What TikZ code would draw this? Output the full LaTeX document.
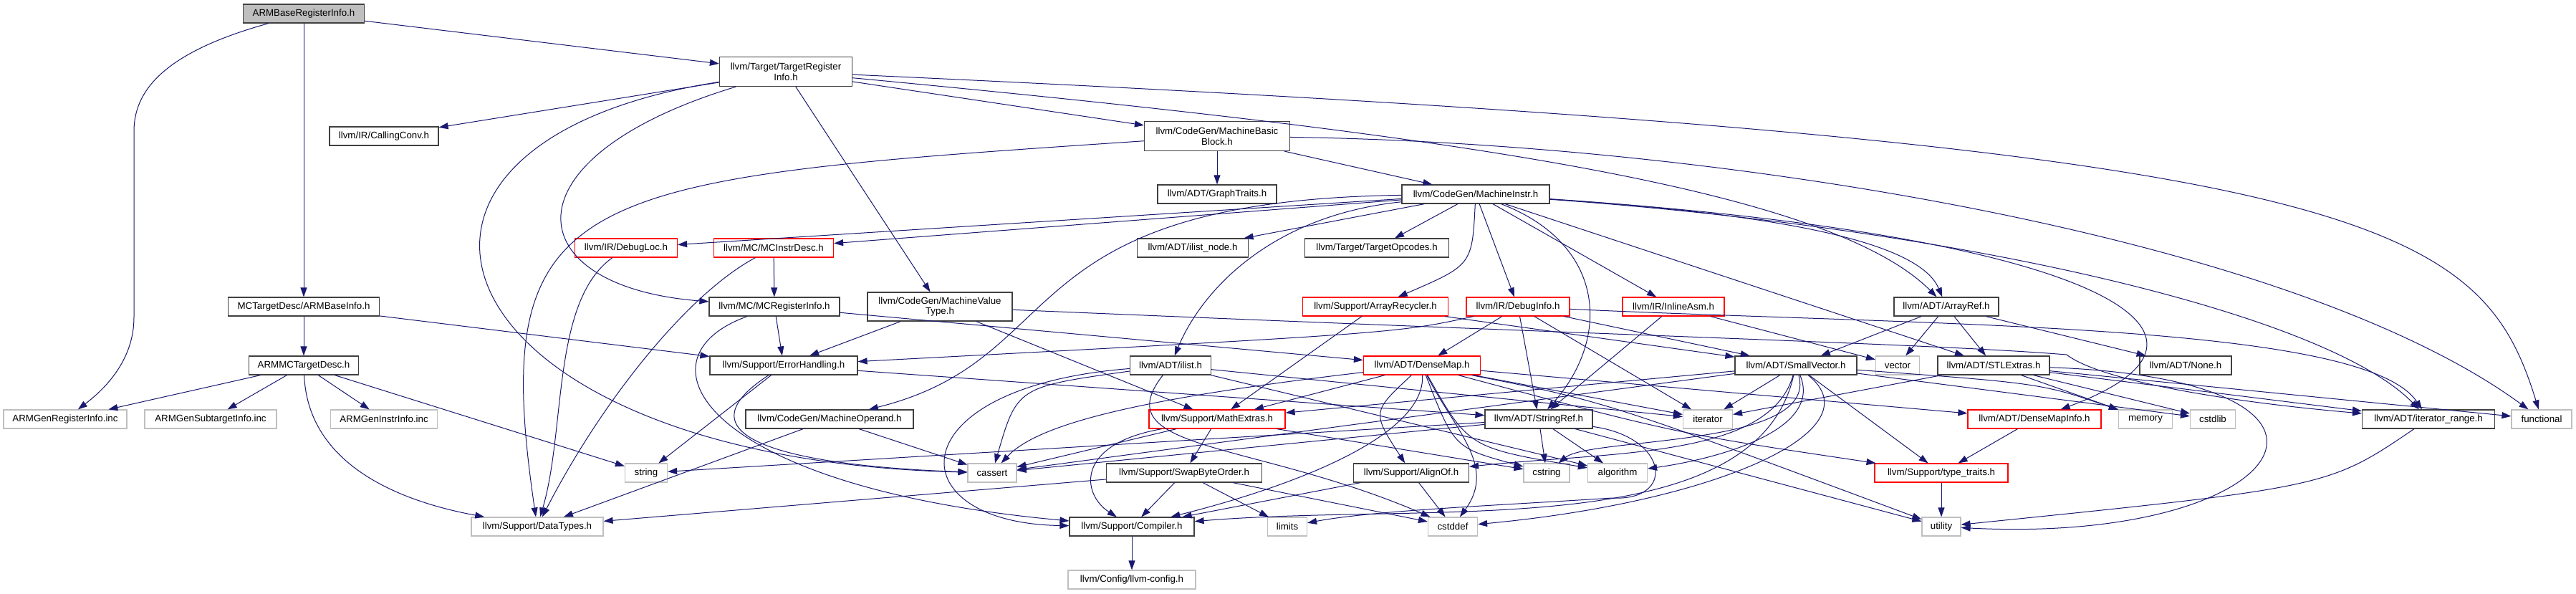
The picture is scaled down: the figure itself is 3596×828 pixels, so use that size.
\documentclass[tikz,border=0pt]{standalone}
\usepackage{fontspec}
\setmainfont{Liberation Sans}
\usetikzlibrary{arrows.meta}
\definecolor{edgeblue}{HTML}{191970}
\definecolor{boxred}{HTML}{FF0000}
\definecolor{boxgray}{HTML}{BFBFBF}
\begin{document}
\begin{tikzpicture}[x=1pt, y=1pt, >={Triangle[length=13pt,width=9pt]},
  every node/.style={font=\fontsize{13.3}{14.6}\selectfont, inner sep=0pt, minimum height=26pt, align=center, line width=1.2pt},
  hdr/.style={draw=black!75, fill=white},
  root/.style={draw=black!75, fill=boxgray},
  redhdr/.style={draw=boxred, fill=white},
  sys/.style={draw=boxgray, fill=white},
  inc/.style={->, draw=edgeblue, line width=1pt}]
\useasboundingbox[fill=white] (0,0) rectangle (3596,-828);
\node[root, minimum width=169pt] (arb) at (424,-19) {ARMBaseRegisterInfo.h};
\node[hdr, minimum width=185pt, minimum height=41pt] (tri) at (1097,-100) {llvm/Target/TargetRegister\\Info.h};
\node[hdr, minimum width=152pt] (callconv) at (536,-190) {llvm/IR/CallingConv.h};
\node[hdr, minimum width=203pt, minimum height=41pt] (mbb) at (1699,-190) {llvm/CodeGen/MachineBasic\\Block.h};
\node[hdr, minimum width=166pt] (graphtraits) at (1699,-271) {llvm/ADT/GraphTraits.h};
\node[hdr, minimum width=206pt] (minstr) at (2060,-271) {llvm/CodeGen/MachineInstr.h};
\node[redhdr, minimum width=143pt] (debugloc) at (874,-346) {llvm/IR/DebugLoc.h};
\node[redhdr, minimum width=167pt] (mcinstrdesc) at (1080,-346) {llvm/MC/MCInstrDesc.h};
\node[hdr, minimum width=155pt] (ilistnode) at (1665,-346) {llvm/ADT/ilist\_node.h};
\node[hdr, minimum width=201pt] (targetopc) at (1922,-346) {llvm/Target/TargetOpcodes.h};
\node[hdr, minimum width=211pt] (armbaseinfo) at (424,-428) {MCTargetDesc/ARMBaseInfo.h};
\node[hdr, minimum width=182pt] (mcreginfo) at (1081,-428) {llvm/MC/MCRegisterInfo.h};
\node[hdr, minimum width=202pt, minimum height=40pt] (mvt) at (1312,-428) {llvm/CodeGen/MachineValue\\Type.h};
\node[redhdr, minimum width=203pt] (arrayrec) at (1920,-428) {llvm/Support/ArrayRecycler.h};
\node[redhdr, minimum width=144pt] (debuginfo) at (2119,-428) {llvm/IR/DebugInfo.h};
\node[redhdr, minimum width=142pt] (inlineasm) at (2336,-428) {llvm/IR/InlineAsm.h};
\node[hdr, minimum width=146pt] (arrayref) at (2717,-428) {llvm/ADT/ArrayRef.h};
\node[hdr, minimum width=153pt] (armmc) at (424,-510) {ARMMCTargetDesc.h};
\node[hdr, minimum width=206pt] (errhand) at (1094,-510) {llvm/Support/ErrorHandling.h};
\node[hdr, minimum width=113pt] (ilist) at (1634,-510) {llvm/ADT/ilist.h};
\node[redhdr, minimum width=163pt] (densemap) at (1985,-510) {llvm/ADT/DenseMap.h};
\node[hdr, minimum width=170pt] (smallvec) at (2507,-510) {llvm/ADT/SmallVector.h};
\node[sys, minimum width=61pt] (vector) at (2649,-510) {vector};
\node[hdr, minimum width=156pt] (stlextras) at (2783,-510) {llvm/ADT/STLExtras.h};
\node[hdr, minimum width=128pt] (none) at (3051,-510) {llvm/ADT/None.h};
\node[sys, minimum width=172pt] (genreg) at (91,-585) {ARMGenRegisterInfo.inc};
\node[sys, minimum width=184pt] (gensub) at (294,-585) {ARMGenSubtargetInfo.inc};
\node[sys, minimum width=149pt] (geninstr) at (536,-585) {ARMGenInstrInfo.inc};
\node[hdr, minimum width=234pt] (moperand) at (1158,-585) {llvm/CodeGen/MachineOperand.h};
\node[redhdr, minimum width=190pt] (mathextras) at (1699,-585) {llvm/Support/MathExtras.h};
\node[hdr, minimum width=150pt] (stringref) at (2148,-585) {llvm/ADT/StringRef.h};
\node[sys, minimum width=69pt] (iterator) at (2384,-585) {iterator};
\node[redhdr, minimum width=186pt] (densemapinfo) at (2840,-585) {llvm/ADT/DenseMapInfo.h};
\node[sys, minimum width=75pt] (memory) at (2995,-585) {memory};
\node[sys, minimum width=63pt] (cstdlib) at (3089,-585) {cstdlib};
\node[hdr, minimum width=185pt] (iterrange) at (3390,-585) {llvm/ADT/iterator\_range.h};
\node[sys, minimum width=84pt] (functional) at (3548,-585) {functional};
\node[sys, minimum width=59pt] (string) at (902,-660) {string};
\node[sys, minimum width=68pt] (cassert) at (1385,-660) {cassert};
\node[hdr, minimum width=217pt] (swapbyte) at (1653,-660) {llvm/Support/SwapByteOrder.h};
\node[hdr, minimum width=161pt] (alignof) at (1970,-660) {llvm/Support/AlignOf.h};
\node[sys, minimum width=64pt] (cstring) at (2159,-660) {cstring};
\node[sys, minimum width=83pt] (algorithm) at (2258,-660) {algorithm};
\node[redhdr, minimum width=186pt] (typetraits) at (2710,-660) {llvm/Support/type\_traits.h};
\node[sys, minimum width=184pt] (datatypes) at (750,-735) {llvm/Support/DataTypes.h};
\node[hdr, minimum width=174pt] (compiler) at (1580,-735) {llvm/Support/Compiler.h};
\node[sys, minimum width=55pt] (limits) at (1797,-735) {limits};
\node[sys, minimum width=69pt] (cstddef) at (2028,-735) {cstddef};
\node[sys, minimum width=54pt] (utility) at (2710,-735) {utility};
\node[sys, minimum width=178pt] (llvmconfig) at (1580,-809) {llvm/Config/llvm-config.h};
\draw[inc] (arb) -- (tri);
\draw[inc] (arb) -- (armbaseinfo);
\draw[inc] (arb) .. controls (240,-70) and (187,-120) .. (187,-183) -- (187,-443) .. controls (187,-500) and (150,-540) .. (genreg);
\draw[inc] (tri) -- (callconv);
\draw[inc] (tri) -- (mbb);
\draw[inc] (tri) -- (mvt);
\draw[inc] (tri) .. controls (700,-220) and (720,-400) .. (mcreginfo);
\draw[inc] (tri) .. controls (450,-200) and (600,-640) .. (cassert);
\draw[inc] (tri) .. controls (2000,-185) and (2550,-260) .. (arrayref);
\draw[inc] (tri) .. controls (3300,-200) and (3460,-300) .. (functional);
\draw[inc] (mbb) -- (graphtraits);
\draw[inc] (mbb) -- (minstr);
\draw[inc] (mbb) .. controls (800,-250) and (680,-260) .. (datatypes);
\draw[inc] (mbb) .. controls (2400,-200) and (3200,-330) .. (functional);
\draw[inc] (minstr) -- (debugloc);
\draw[inc] (minstr) -- (mcinstrdesc);
\draw[inc] (minstr) -- (ilistnode);
\draw[inc] (minstr) -- (targetopc);
\draw[inc] (minstr) .. controls (2055,-370) .. (arrayrec);
\draw[inc] (minstr) -- (debuginfo);
\draw[inc] (minstr) -- (inlineasm);
\draw[inc] (minstr) .. controls (2240,-340) and (2250,-470) .. (stringref);
\draw[inc] (minstr) -- (stlextras);
\draw[inc] (minstr) .. controls (2500,-300) and (2680,-340) .. (arrayref);
\draw[inc] (minstr) .. controls (2950,-330) and (3150,-470) .. (densemapinfo);
\draw[inc] (minstr) .. controls (2750,-320) and (3250,-440) .. (iterrange);
\draw[inc] (minstr) .. controls (1780,-300) and (1680,-400) .. (ilist);
\draw[inc] (minstr) .. controls (1400,-280) and (1500,-500) .. (moperand);
\draw[inc] (armbaseinfo) -- (armmc);
\draw[inc] (armbaseinfo) -- (errhand);
\draw[inc] (armmc) -- (genreg);
\draw[inc] (armmc) -- (gensub);
\draw[inc] (armmc) -- (geninstr);
\draw[inc] (armmc) .. controls (430,-650) and (560,-700) .. (datatypes);
\draw[inc] (armmc) -- (string);
\draw[inc] (debugloc) .. controls (770,-420) and (790,-600) .. (datatypes);
\draw[inc] (mcinstrdesc) -- (mcreginfo);
\draw[inc] (mcinstrdesc) .. controls (960,-410) and (840,-560) .. (datatypes);
\draw[inc] (mcreginfo) -- (errhand);
\draw[inc] (mcreginfo) -- (densemap);
\draw[inc] (mcreginfo) .. controls (880,-500) and (980,-680) .. (compiler);
\draw[inc] (mvt) -- (errhand);
\draw[inc] (mvt) -- (mathextras);
\draw[inc] (mvt) .. controls (2300,-470) and (2700,-480) .. (2885,-495) .. controls (2930,-530) and (3100,-560) .. (iterrange);
\draw[inc] (errhand) -- (string);
\draw[inc] (errhand) -- (stringref);
\draw[inc] (errhand) .. controls (940,-610) and (1100,-650) .. (cassert);
\draw[inc] (ilist) -- (iterator);
\draw[inc] (ilist) .. controls (1420,-540) .. (cassert);
\draw[inc] (ilist) .. controls (1540,-630) and (1750,-615) .. (cstddef);
\draw[inc] (ilist) .. controls (1250,-540) and (1250,-730) .. (compiler);
\draw[inc] (ilist) -- (algorithm);
\draw[inc] (moperand) -- (datatypes);
\draw[inc] (moperand) -- (cassert);
\draw[inc] (densemap) -- (densemapinfo);
\draw[inc] (densemap) .. controls (1915,-575) .. (alignof);
\draw[inc] (densemap) .. controls (1990,-610) and (1800,-680) .. (compiler);
\draw[inc] (densemap) -- (mathextras);
\draw[inc] (densemap) .. controls (2340,-605) .. (typetraits);
\draw[inc] (densemap) .. controls (2050,-625) .. (algorithm);
\draw[inc] (densemap) .. controls (2030,-625) .. (cstring);
\draw[inc] (densemap) .. controls (2030,-600) and (2090,-650) .. (cstddef);
\draw[inc] (densemap) .. controls (1600,-555) and (1450,-590) .. (cassert);
\draw[inc] (densemap) -- (iterator);
\draw[inc] (densemap) .. controls (2240,-560) .. (utility);
\draw[inc] (smallvec) .. controls (2470,-640) and (2250,-630) .. (alignof);
\draw[inc] (smallvec) .. controls (2450,-760) and (2000,-700) .. (compiler);
\draw[inc] (smallvec) -- (mathextras);
\draw[inc] (smallvec) -- (typetraits);
\draw[inc] (smallvec) .. controls (2545,-600) and (2400,-640) .. (algorithm);
\draw[inc] (smallvec) -- (cassert);
\draw[inc] (smallvec) .. controls (2620,-600) and (2400,-700) .. (cstddef);
\draw[inc] (smallvec) -- (cstdlib);
\draw[inc] (smallvec) .. controls (2540,-625) and (2220,-610) .. (cstring);
\draw[inc] (smallvec) -- (iterator);
\draw[inc] (smallvec) .. controls (2850,-535) .. (memory);
\draw[inc] (stlextras) -- (iterator);
\draw[inc] (stlextras) -- (memory);
\draw[inc] (stlextras) -- (cstdlib);
\draw[inc] (stlextras) -- (functional);
\draw[inc] (stlextras) -- (iterrange);
\draw[inc] (stlextras) .. controls (3350,-530) and (3200,-760) .. (utility);
\draw[inc] (arrayref) -- (none);
\draw[inc] (arrayref) -- (smallvec);
\draw[inc] (arrayref) -- (stlextras);
\draw[inc] (arrayref) -- (vector);
\draw[inc] (stringref) -- (cstring);
\draw[inc] (stringref) -- (algorithm);
\draw[inc] (stringref) -- (cassert);
\draw[inc] (stringref) -- (string);
\draw[inc] (stringref) -- (utility);
\draw[inc] (stringref) .. controls (2330,-610) and (2340,-700) .. (2250,-695) .. controls (2100,-705) and (1920,-712) .. (limits);
\draw[inc] (mathextras) -- (swapbyte);
\draw[inc] (mathextras) .. controls (1500,-620) and (1510,-690) .. (compiler);
\draw[inc] (mathextras) -- (cassert);
\draw[inc] (mathextras) -- (cstring);
\draw[inc] (swapbyte) -- (compiler);
\draw[inc] (swapbyte) -- (datatypes);
\draw[inc] (swapbyte) -- (cstddef);
\draw[inc] (swapbyte) -- (limits);
\draw[inc] (alignof) -- (compiler);
\draw[inc] (alignof) -- (cstddef);
\draw[inc] (compiler) -- (llvmconfig);
\draw[inc] (densemapinfo) -- (typetraits);
\draw[inc] (typetraits) -- (utility);
\draw[inc] (iterrange) .. controls (3250,-680) .. (utility);
\draw[inc] (inlineasm) -- (stringref);
\draw[inc] (inlineasm) -- (vector);
\draw[inc] (debuginfo) -- (densemap);
\draw[inc] (debuginfo) -- (stringref);
\draw[inc] (debuginfo) -- (iterator);
\draw[inc] (debuginfo) -- (smallvec);
\draw[inc] (debuginfo) .. controls (1950,-465) .. (errhand);
\draw[inc] (debuginfo) .. controls (2700,-455) and (3300,-450) .. (iterrange);
\draw[inc] (arrayrec) -- (mathextras);
\draw[inc] (arrayrec) -- (smallvec);
\end{tikzpicture}
\end{document}
